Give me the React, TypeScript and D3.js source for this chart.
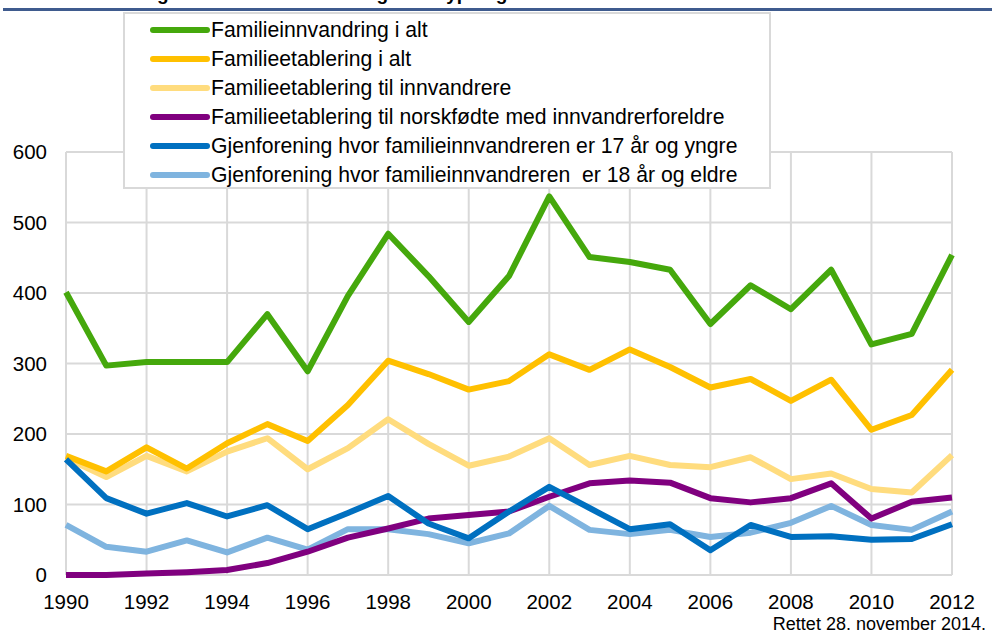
import * as d3 from "d3";

// years on the x axis
const years = d3.range(1990, 2013);

// series values
const familieinnvandring = [401, 297, 302, 302, 302, 370, 289, 396, 484, 424, 359, 424, 537, 451, 444, 433, 356, 411, 377, 433, 327, 342, 454];
const etableringAlt = [169, 147, 181, 151, 187, 214, 190, 241, 304, 285, 263, 275, 313, 291, 320, 295, 266, 278, 247, 277, 206, 227, 291];
const etableringInnv = [166, 139, 169, 147, 175, 194, 150, 180, 221, 186, 155, 168, 194, 156, 169, 156, 153, 167, 136, 144, 122, 117, 170];
const etableringNorsk = [0, 0, 2, 4, 7, 17, 33, 53, 66, 80, 85, 90, 111, 130, 134, 131, 109, 103, 109, 130, 80, 104, 110];
const gjenUnder17 = [164, 109, 87, 102, 83, 99, 65, 88, 112, 73, 52, 90, 125, 95, 65, 72, 35, 71, 54, 55, 50, 51, 72];
const gjenOver18 = [71, 40, 33, 49, 32, 53, 36, 65, 65, 58, 45, 59, 98, 64, 58, 64, 54, 60, 74, 98, 71, 64, 90];

const seriesNames = [
  "Familieinnvandring i alt",
  "Familieetablering i alt",
  "Familieetablering til innvandrere",
  "Familieetablering til norskfødte med innvandrerforeldre",
  "Gjenforening hvor familieinnvandreren er 17 år og yngre",
  "Gjenforening hvor familieinnvandreren  er 18 år og eldre",
];
const seriesValues = [familieinnvandring, etableringAlt, etableringInnv, etableringNorsk, gjenUnder17, gjenOver18];
const seriesColors = ["#45a80c", "#ffc000", "#ffdc7e", "#80007f", "#0070c0", "#7fb4df"];
// draw order so overlaps look like the original
const drawOrder = [5, 2, 0, 1, 3, 4];

const yTicks = [0, 100, 200, 300, 400, 500, 600];
const xTickYears = d3.range(1990, 2013, 2);

const W = 992;
const H = 636;
const FONT = "Arial, 'Liberation Sans', sans-serif";

export default function App() {
  const x = d3.scaleLinear().domain([1990, 2012]).range([66, 952]);
  const y = d3.scaleLinear().domain([0, 600]).range([575, 152]);

  const line = d3
    .line<number>()
    .x((_, i) => x(years[i]))
    .y((d) => y(d));

  // legend rows
  const legendTop = 30;
  const legendStep = 29;

  return (
    <svg
      width={W}
      height={H}
      style={{ position: "fixed", left: 0, top: 0, background: "#fff" }}
      fontFamily={FONT}
    >
      <rect x={0} y={0} width={W} height={H} fill="#fff" />
      {/* title, cut off by the top of the picture: only descenders show */}
      <text x={140} y={-0.5} fontSize={19} fontWeight="bold" fill="#000">
        Figur 4. Familieinnvandring etter type og år
      </text>
      <line x1={3} x2={W} y1={9.5} y2={9.5} stroke="#3f5b8e" strokeWidth={3} />

      {/* grid */}
      {yTicks.map((t) => (
        <line key={"h" + t} x1={x(1990)} x2={x(2012)} y1={y(t)} y2={y(t)} stroke="#d9d9d9" strokeWidth={2} />
      ))}
      {xTickYears.map((t) => (
        <line key={"v" + t} x1={x(t)} x2={x(t)} y1={y(600)} y2={y(0)} stroke="#d9d9d9" strokeWidth={2} />
      ))}

      {/* axis labels */}
      {yTicks.map((t) => (
        <text key={"yl" + t} x={47} y={y(t)} dy="0.35em" textAnchor="end" fontSize={20.5} fill="#000">
          {t}
        </text>
      ))}
      {xTickYears.map((t) => (
        <text key={"xl" + t} x={x(t)} y={609} textAnchor="middle" fontSize={20.5} fill="#000">
          {t}
        </text>
      ))}

      {/* series */}
      {drawOrder.map((i) => (
        <path
          key={"s" + i}
          d={line(seriesValues[i]) || ""}
          fill="none"
          stroke={seriesColors[i]}
          strokeWidth={6}
          strokeLinejoin="round"
        />
      ))}

      {/* legend */}
      <rect x={124} y={13} width={646} height={175} fill="#fff" stroke="#d9d9d9" strokeWidth={2} />
      {seriesNames.map((name, i) => (
        <g key={"lg" + i} transform={`translate(0,${legendTop + i * legendStep})`}>
          <line x1={153} x2={207} y1={0} y2={0} stroke={seriesColors[i]} strokeWidth={6} strokeLinecap="round" />
          <text x={211} y={0} dy="0.35em" fontSize={21.2} fill="#000" style={{ whiteSpace: "pre" }}>
            {name}
          </text>
        </g>
      ))}

      <text x={986} y={630} textAnchor="end" fontSize={18} fill="#000">
        Rettet 28. november 2014.
      </text>
    </svg>
  );
}
